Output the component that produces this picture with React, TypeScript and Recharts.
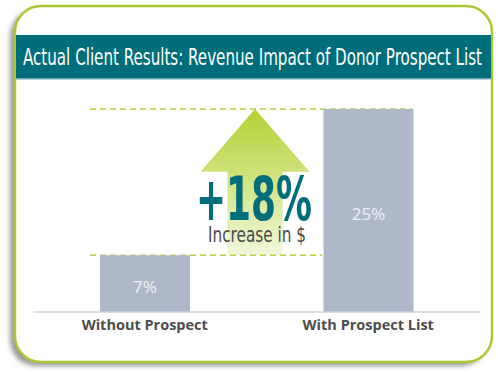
import { Bar, BarChart, LabelList, ReferenceArea, XAxis, YAxis } from "recharts";

const categories = ["Without Prospect", "With Prospect List"];
const revenueShare = [7, 25];
const valueSuffix = "%";
const title = "Actual Client Results: Revenue Impact of Donor Prospect List";
const increaseCaption = "Increase in $";

const data = categories.map((name, i) => ({ name, value: revenueShare[i] }));

const TEAL = "#006d7b";
const LIME = "#a9c934";
const DASH = "#b8cf42";
const BAR = "#adb8cb";
const CONDENSED = "'Liberation Sans Narrow', 'DejaVu Sans Condensed', 'Roboto', sans-serif";

const lowVal = Math.min(...revenueShare);
const highVal = Math.max(...revenueShare);
const delta = highVal - lowVal;

// arrow + dashed guides + "+18%" callout, sized from the y scale via ReferenceArea
function UpliftOverlay(props: any) {
  const { x, y, width, height } = props;
  const top = y;
  const bottom = y + height;
  const cx = x + width / 2 - 1.5;
  const headBase = top + height * 0.43;
  const headHalf = 54.5;
  const shaftHalf = 27.5;
  const arrow = `M${cx},${top} L${cx + headHalf},${headBase} L${cx + shaftHalf},${headBase} L${cx + shaftHalf},${bottom} L${cx - shaftHalf},${bottom} L${cx - shaftHalf},${headBase} L${cx - headHalf},${headBase} Z`;
  const left = x + width * 0.1275;
  return (
    <g>
      <defs>
        <linearGradient id="arrowFill" x1="0" y1="0" x2="0" y2="1">
          <stop offset="0%" stopColor="#b2d135" />
          <stop offset="45%" stopColor="#cfe27a" />
          <stop offset="100%" stopColor="#f1f7dc" />
        </linearGradient>
      </defs>
      <path d={arrow} fill="url(#arrowFill)" />
      <line x1={left} x2={x + width * 0.848} y1={top} y2={top} stroke={DASH} strokeWidth={1.5} strokeDasharray="6 4" />
      <line x1={left} x2={x + width * 0.647} y1={bottom} y2={bottom} stroke={DASH} strokeWidth={1.5} strokeDasharray="6 4" />
      <text x={196} y={top + height * 0.76} fill={TEAL} fontFamily={CONDENSED} fontWeight={700} fontSize={60} textLength={116} lengthAdjust="spacingAndGlyphs">
        {`+${delta}${valueSuffix}`}
      </text>
      <text x={208} y={bottom - 13} fill="#4a4a4a" fontFamily={CONDENSED} fontSize={22} textLength={98} lengthAdjust="spacingAndGlyphs">
        {increaseCaption}
      </text>
    </g>
  );
}

function Frame() {
  return (
    <svg width={502} height={372} style={{ position: "absolute", left: 0, top: 0 }}>
      <defs>
        <filter id="shadow" x="-10%" y="-10%" width="120%" height="120%">
          <feGaussianBlur stdDeviation="2.5" />
        </filter>
      </defs>
      <rect x={10} y={10} width={477} height={356} rx={26} fill="#9a9a9a" filter="url(#shadow)" />
      <rect x={15} y={6} width={477} height={356} rx={26} fill="#fff" stroke={LIME} strokeWidth={2.5} />
      <rect x={16} y={35} width={475} height={44} fill={TEAL} />
      <rect x={16} y={78} width={475} height={1.5} fill="#6fa6b0" />
      <text x={23} y={65} fill="#fff" fontFamily={CONDENSED} fontSize={23} textLength={459} lengthAdjust="spacingAndGlyphs">
        {title}
      </text>
    </svg>
  );
}

export default function App() {
  return (
    <div style={{ position: "absolute", left: 0, top: 0, width: 502, height: 372 }}>
      <Frame />
      <div style={{ position: "absolute", left: 0, top: 0 }}>
        <BarChart width={502} height={372} data={data} margin={{ top: 109, right: 22, left: 33, bottom: 30 }}>
          <XAxis
            dataKey="name"
            axisLine={{ stroke: "#cfd3d8", strokeWidth: 1.5 }}
            tickLine={false}
            tick={{ fill: "#4d4d4d", fontSize: 14.5, fontWeight: 700, fontFamily: "'Open Sans', sans-serif" }}
            height={30}
          />
          <YAxis hide domain={[0, highVal]} />
          <ReferenceArea y1={lowVal} y2={highVal} shape={UpliftOverlay} ifOverflow="visible" />
          <Bar dataKey="value" fill={BAR} barSize={90} isAnimationActive={false}>
            <LabelList
              dataKey="value"
              position="center"
              formatter={(v: any) => `${v}${valueSuffix}`}
              fill="#eef1f5"
              fontSize={17}
              fontFamily="'Open Sans', sans-serif"
              dy={3}
            />
          </Bar>
        </BarChart>
      </div>
    </div>
  );
}
